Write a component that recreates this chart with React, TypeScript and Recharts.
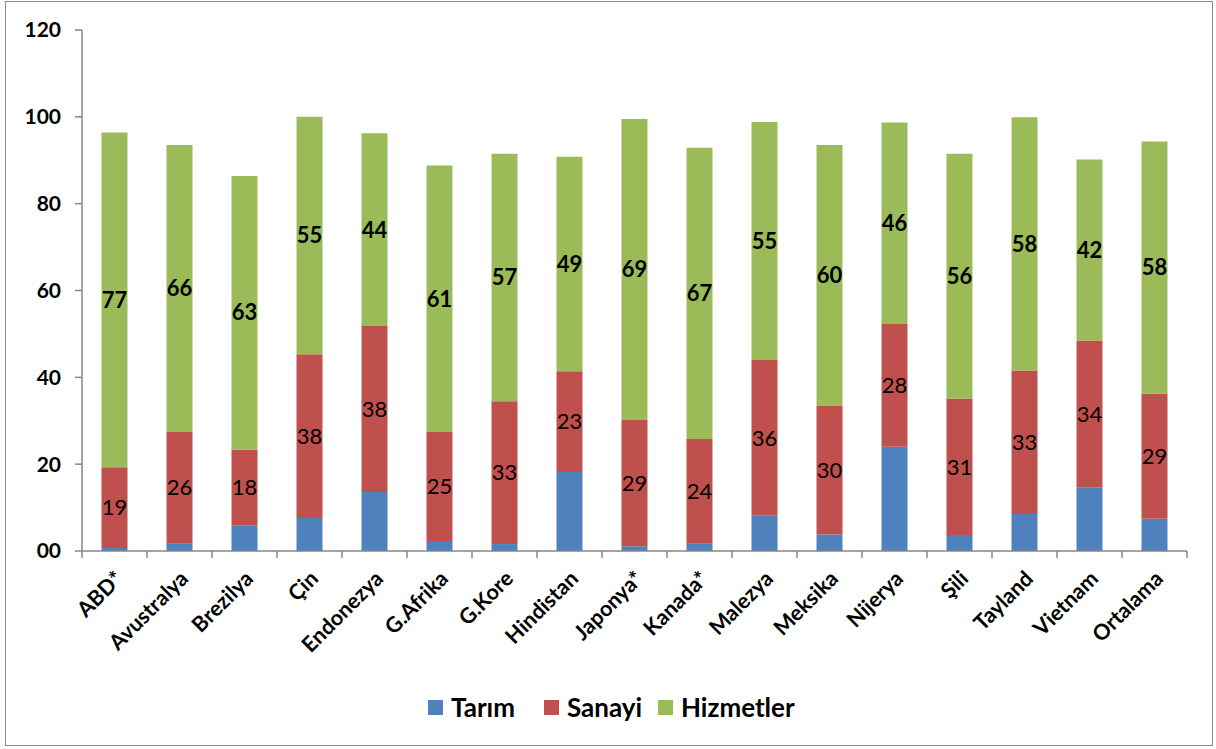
import React from "react";
import { BarChart, Bar, XAxis, YAxis, LabelList } from "recharts";

const categories = ["ABD*", "Avustralya", "Brezilya", "Çin", "Endonezya", "G.Afrika", "G.Kore", "Hindistan", "Japonya*", "Kanada*", "Malezya", "Meksika", "Nijerya", "Şili", "Tayland", "Vietnam", "Ortalama"];
const tarim = [0.7, 1.8, 5.8, 7.6, 13.6, 2.3, 1.6, 18.2, 1.1, 1.8, 8.1, 3.8, 24.0, 3.7, 8.5, 14.7, 7.4];
const sanayi = [18.6, 25.6, 17.6, 37.7, 38.2, 25.1, 32.9, 23.2, 29.1, 24.0, 35.9, 29.6, 28.3, 31.4, 33.1, 33.8, 28.9];
const hizmetler = [77.1, 66.1, 63.0, 54.7, 44.4, 61.4, 57.0, 49.4, 69.3, 67.1, 54.8, 60.1, 46.4, 56.4, 58.3, 41.7, 58.0];
const yTicks = [0, 20, 40, 60, 80, 100, 120];
const seriesNames = ["Tarım", "Sanayi", "Hizmetler"];
const colors = ["#4F81BD", "#C0504D", "#9BBB59"];

const data = categories.map((c, i) => ({ name: c, tarim: tarim[i], sanayi: sanayi[i], hizmetler: hizmetler[i] }));

const FONT = "Lato, 'Open Sans', sans-serif";
const AXIS = "#868686";

const CatTick = (props: any) => {
  const { x, y, payload, index, visibleTicksCount, width } = props;
  const step = width / visibleTicksCount;
  const ax = x + 10;
  const ay = y + 29;
  return (
    <g>
      <line x1={x - step / 2} x2={x - step / 2} y1={y} y2={y + 7} stroke={AXIS} strokeWidth={1.5} />
      {index === visibleTicksCount - 1 && (
        <line x1={x + step / 2} x2={x + step / 2} y1={y} y2={y + 7} stroke={AXIS} strokeWidth={1.5} />
      )}
      <text
        x={ax}
        y={ay}
        transform={`rotate(-45, ${ax}, ${ay})`}
        textAnchor="end"
        fontFamily={FONT}
        fontWeight="bold"
        fontSize={21.5}
        fill="#000"
      >
        {payload.value}
      </text>
    </g>
  );
};

export default function App() {
  return (
    <div style={{ position: "absolute", left: 0, top: 0, width: 1216, height: 749, background: "#fff", fontFamily: FONT }}>
      <div style={{ position: "absolute", left: 5, top: 1, width: 1208, height: 745, border: "1.5px solid #8a8a8a", boxSizing: "border-box" }} />
      <BarChart
        width={1216}
        height={749}
        data={data}
        margin={{ top: 30, right: 29, left: 12, bottom: 78 }}
        barCategoryGap="30%"
      >
        <XAxis
          dataKey="name"
          height={120}
          interval={0}
          tickLine={false}
          tickSize={0}
          tickMargin={0}
          axisLine={{ stroke: AXIS, strokeWidth: 1.5 }}
          tick={<CatTick />}
        />
        <YAxis
          width={70}
          domain={[0, 120]}
          ticks={yTicks}
          interval={0}
          tickSize={7}
          tickMargin={14}
          axisLine={{ stroke: AXIS, strokeWidth: 1.5 }}
          tickLine={{ stroke: AXIS, strokeWidth: 1.5 }}
          tickFormatter={(v: number) => (v === 0 ? "00" : String(v))}
          tick={{ fill: "#000", fontFamily: FONT, fontWeight: "bold", fontSize: 21 }}
        />
        <Bar dataKey="tarim" stackId="a" fill={colors[0]} isAnimationActive={false} />
        <Bar dataKey="sanayi" stackId="a" fill={colors[1]} isAnimationActive={false}>
          <LabelList
            dataKey="sanayi"
            position="center"
            formatter={(v: any) => Math.round(Number(v))}
            style={{ fill: "#000", fontFamily: FONT, fontSize: 22, fontWeight: "normal" }}
          />
        </Bar>
        <Bar dataKey="hizmetler" stackId="a" fill={colors[2]} isAnimationActive={false}>
          <LabelList
            dataKey="hizmetler"
            position="center"
            formatter={(v: any) => Math.round(Number(v))}
            style={{ fill: "#000", fontFamily: FONT, fontSize: 22, fontWeight: "bold" }}
          />
        </Bar>
      </BarChart>
      <div style={{ position: "absolute", left: 428, top: 691, height: 32, display: "flex", alignItems: "center" }}>
        {seriesNames.map((n, i) => (
          <div key={n} style={{ display: "flex", alignItems: "center", width: i === 0 ? 116 : i === 1 ? 114 : "auto" }}>
            <div style={{ width: 15, height: 15, background: colors[i], marginRight: 8 }} />
            <span style={{ fontFamily: FONT, fontWeight: "bold", fontSize: 26, color: "#000" }}>{n}</span>
          </div>
        ))}
      </div>
    </div>
  );
}
